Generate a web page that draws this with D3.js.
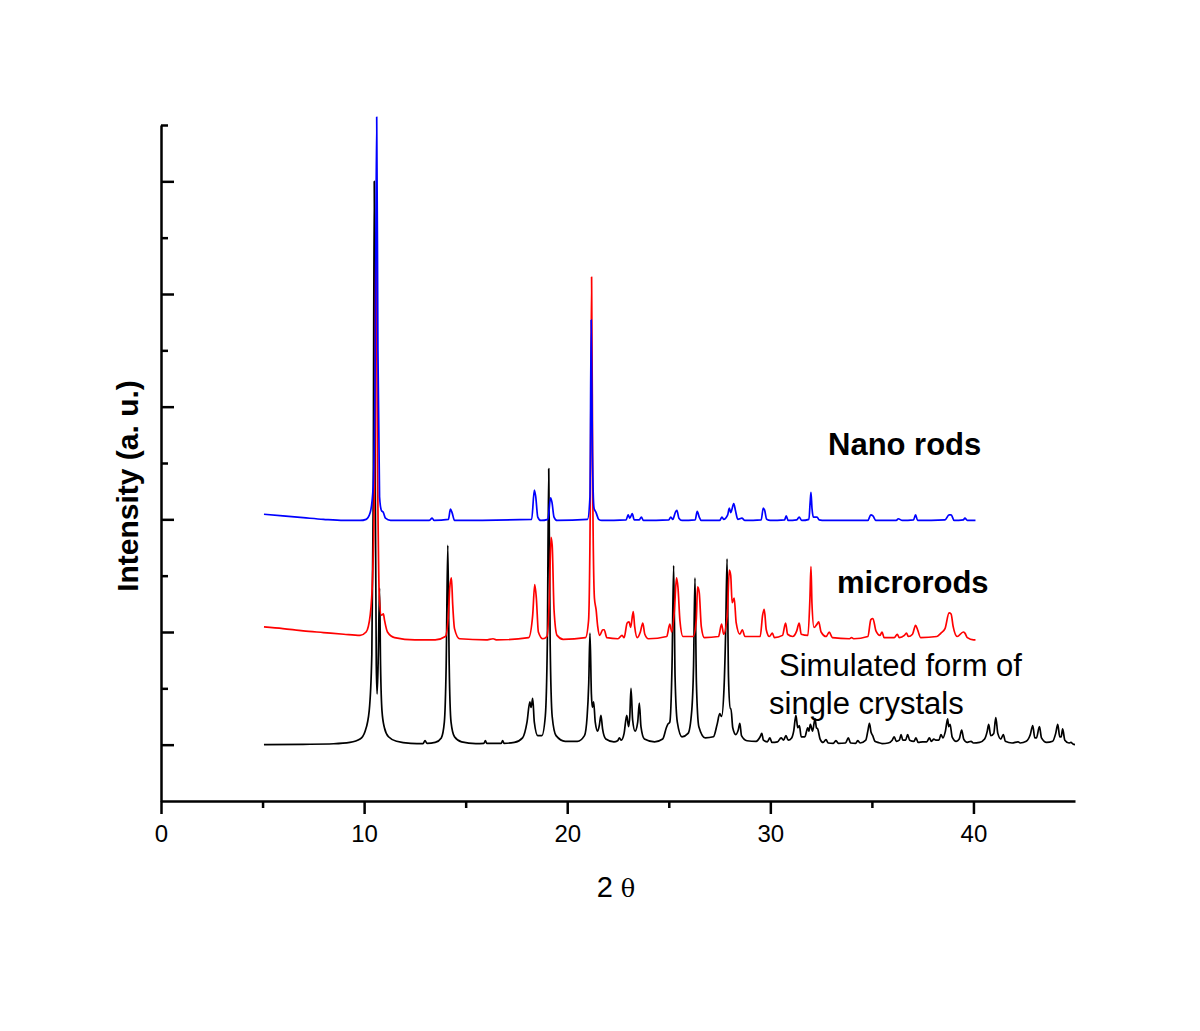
<!DOCTYPE html>
<html>
<head>
<meta charset="UTF-8">
<title>XRD patterns</title>
<script src="https://d3js.org/d3.v7.min.js"></script>
<style>
  body { margin: 0; background: #fff; }
  text { font-family: Arial, "Liberation Sans", sans-serif; }
</style>
</head>
<body>
<script>
// 2theta / intensity (counts above each trace's own zero)
var simulated = [[5.07,0],[7,3],[8.5,8],[9.3,20],[9.8,50],[10.05,120],[10.25,300],[10.38,800],[10.45,2200],[10.5,5000],[10.55,2300],[10.6,700],[10.64,450],[10.7,800],[10.76,1390],[10.81,700],[10.88,300],[11.0,150],[11.2,70],[11.6,30],[12.3,12],[12.9,10],[13.0,35],[13.1,12],[13.5,20],[13.8,60],[13.95,200],[14.04,700],[14.12,1770],[14.19,700],[14.28,200],[14.45,70],[14.8,25],[15.5,10],[15.9,12],[15.97,35],[16.04,12],[16.75,12],[16.82,35],[16.89,12],[17.4,20],[17.8,60],[18.02,200],[18.16,380],[18.22,330],[18.3,410],[18.38,200],[18.55,80],[18.75,80],[18.92,250],[19.02,900],[19.09,2450],[19.16,900],[19.26,250],[19.45,80],[19.9,30],[20.5,30],[20.85,80],[20.98,250],[21.06,550],[21.12,990],[21.19,450],[21.24,330],[21.3,380],[21.38,200],[21.5,120],[21.58,170],[21.66,260],[21.74,140],[21.9,50],[22.3,25],[22.48,35],[22.57,60],[22.66,40],[22.8,100],[22.93,260],[23.02,160],[23.08,250],[23.14,500],[23.22,220],[23.34,120],[23.47,200],[23.55,370],[23.63,160],[23.8,50],[24.3,25],[24.7,50],[24.88,150],[24.95,180],[25.05,200],[25.16,700],[25.24,1590],[25.31,600],[25.42,200],[25.65,70],[25.95,100],[26.13,300],[26.22,700],[26.29,1480],[26.36,550],[26.48,160],[26.8,60],[27.2,70],[27.38,180],[27.51,275],[27.6,250],[27.72,500],[27.8,1000],[27.87,1650],[27.94,600],[28.02,320],[28.06,320],[28.15,150],[28.3,90],[28.42,130],[28.5,190],[28.58,80],[28.85,35],[29.3,30],[29.5,70],[29.58,100],[29.66,40],[29.85,25],[29.98,60],[30.08,20],[30.35,25],[30.53,60],[30.65,40],[30.77,80],[30.88,40],[31.05,60],[31.15,120],[31.26,260],[31.35,150],[31.43,170],[31.52,70],[31.7,70],[31.84,150],[31.9,120],[31.97,180],[32.08,120],[32.2,230],[32.27,150],[32.33,140],[32.45,50],[32.6,20],[32.74,45],[32.85,15],[33.1,12],[33.23,35],[33.35,12],[33.7,15],[33.84,60],[33.95,15],[34.2,12],[34.3,35],[34.42,15],[34.7,40],[34.8,120],[34.88,190],[34.96,110],[35.04,80],[35.15,30],[35.3,20],[35.5,10],[35.8,15],[36.0,40],[36.1,70],[36.2,30],[36.35,40],[36.44,90],[36.52,40],[36.66,40],[36.76,90],[36.86,40],[37.07,30],[37.17,60],[37.28,20],[37.5,25],[37.7,25],[37.83,60],[37.93,30],[38.05,50],[38.15,40],[38.3,40],[38.4,90],[38.5,60],[38.62,120],[38.73,230],[38.78,160],[38.85,180],[38.95,70],[39.15,30],[39.3,50],[39.42,130],[39.52,50],[39.7,20],[39.88,30],[40.0,15],[40.3,20],[40.55,50],[40.68,120],[40.75,180],[40.85,80],[41.0,100],[41.1,240],[41.2,100],[41.35,50],[41.47,90],[41.57,30],[41.9,15],[42.2,25],[42.3,15],[42.6,30],[42.8,90],[42.92,170],[43.02,60],[43.1,60],[43.25,160],[43.35,60],[43.6,20],[43.9,30],[44.05,100],[44.15,180],[44.25,70],[44.32,70],[44.39,140],[44.5,40],[44.7,15],[44.8,20],[44.9,5],[45.0,0]];

var microrods = [[5.07,45],[6,30],[7,10],[8,-5],[9,-20],[9.8,-30],[10.1,0],[10.3,150],[10.42,500],[10.52,1500],[10.58,3550],[10.66,1500],[10.75,300],[10.85,150],[10.95,160],[11.0,110],[11.15,0],[11.5,-50],[12.5,-70],[13.5,-70],[14.0,-40],[14.15,150],[14.22,400],[14.3,480],[14.36,250],[14.45,30],[14.7,-60],[16,-70],[16.35,-60],[16.5,-70],[18.1,-50],[18.3,150],[18.4,420],[18.48,300],[18.58,0],[18.8,-60],[19.0,-40],[19.12,300],[19.2,840],[19.26,770],[19.35,200],[19.5,-30],[19.8,-65],[20.9,-50],[21.05,100],[21.15,1500],[21.2,3150],[21.26,1200],[21.34,300],[21.42,200],[21.5,50],[21.6,-30],[21.75,20],[21.82,20],[21.95,-50],[22.5,-60],[22.7,-30],[22.8,-50],[22.95,80],[23.05,90],[23.12,40],[23.25,180],[23.32,50],[23.45,-50],[23.6,0],[23.72,80],[23.82,-20],[24.0,-60],[24.9,-40],[25.05,70],[25.15,0],[25.28,200],[25.38,480],[25.45,400],[25.55,100],[25.7,-40],[26.2,-40],[26.35,100],[26.42,400],[26.5,350],[26.6,50],[26.75,-50],[27.45,-40],[27.6,70],[27.7,-20],[27.88,150],[27.98,550],[28.05,500],[28.12,260],[28.22,300],[28.32,80],[28.5,-20],[28.62,20],[28.75,-40],[29.5,-40],[29.62,150],[29.7,200],[29.8,20],[29.95,-40],[30.1,-10],[30.2,-50],[30.6,-30],[30.75,80],[30.85,-20],[31.1,-40],[31.3,10],[31.42,80],[31.52,-20],[31.85,-30],[31.95,300],[32.0,580],[32.05,250],[32.15,40],[32.3,70],[32.38,90],[32.5,0],[32.75,-40],[32.9,0],[33.05,-50],[33.9,-60],[34.0,-50],[34.1,-60],[34.8,-40],[34.95,110],[35.05,120],[35.2,10],[35.4,-30],[35.5,0],[35.6,-50],[36.1,-50],[36.25,-20],[36.35,-50],[36.6,-30],[36.7,-10],[36.8,-40],[37.0,-20],[37.15,60],[37.25,20],[37.4,-50],[38.2,-40],[38.4,-10],[38.6,30],[38.8,170],[38.9,160],[39.0,50],[39.2,-40],[39.5,0],[39.58,-10],[39.7,-50],[40.0,-70],[40.1,-70]];

var nanorods = [[5.07,45],[6,30],[7,15],[8,0],[9,-10],[9.8,-10],[10.1,0],[10.3,60],[10.45,300],[10.55,1500],[10.62,3570],[10.68,1500],[10.76,200],[10.85,80],[10.95,60],[11.05,10],[11.3,-10],[13.2,-10],[13.35,10],[13.45,-10],[14.15,0],[14.25,90],[14.33,60],[14.45,-10],[18.25,0],[18.38,260],[18.45,200],[18.55,20],[18.7,-10],[19.05,0],[19.18,190],[19.25,150],[19.35,20],[19.5,-10],[21.0,0],[21.12,200],[21.18,1770],[21.24,600],[21.32,100],[21.42,60],[21.55,0],[21.7,-10],[22.9,-5],[23.0,40],[23.08,10],[23.2,50],[23.3,-5],[23.55,-5],[23.65,20],[23.75,-10],[25.0,-5],[25.1,20],[25.2,0],[25.32,60],[25.4,80],[25.5,10],[25.65,-10],[26.3,-5],[26.4,70],[26.5,20],[26.6,-10],[27.5,-10],[27.62,20],[27.7,0],[27.9,40],[27.98,100],[28.05,60],[28.2,140],[28.28,80],[28.4,0],[28.6,10],[28.75,-10],[29.55,-5],[29.65,100],[29.72,80],[29.82,0],[30.0,-10],[30.7,-5],[30.78,30],[30.88,-10],[31.3,-5],[31.42,20],[31.55,-10],[31.9,0],[31.96,150],[32.0,240],[32.05,100],[32.12,20],[32.3,20],[32.4,-5],[32.7,-10],[34.8,-10],[34.95,40],[35.05,30],[35.2,-10],[36.2,-10],[36.3,5],[36.5,-10],[37.05,-5],[37.15,40],[37.25,-10],[38.6,-5],[38.8,40],[38.9,40],[39.05,-10],[39.5,-5],[39.58,10],[39.7,-10],[40.1,-10]];

var seriesNames = ["simulated", "microrods", "nanorods"];
var seriesOffsets = [500, 1500, 2500];
var seriesColors = ["#000000", "#ff0000", "#0000ff"];

var xMajorTicks = [0, 10, 20, 30, 40];
var xMinorTicks = [5, 15, 25, 35];
var yMajorTicks = [500, 1500, 2500, 3500, 4500, 5500];
var yMinorTicks = [1000, 2000, 3000, 4000, 5000, 6000];

var w = 1200, h = 1031;
var svg = d3.select("body").append("svg")
    .attr("width", w)
    .attr("height", h);

var x = d3.scaleLinear().domain([0, 45]).range([161, 1075]);
var y = d3.scaleLinear().domain([0, 6000]).range([801, 125]);

var allSeries = [simulated, microrods, nanorods];

var line = d3.line()
    .x(function(d) { return x(d[0]); })
    .y(function(d) { return y(d[1]); })
    .curve(d3.curveMonotoneX);

// traces, black first so blue ends on top
allSeries.forEach(function(s, i) {
    var off = seriesOffsets[i];
    svg.append("path")
        .datum(s.map(function(d) { return [d[0], d[1] + off]; }))
        .attr("class", "trace " + seriesNames[i])
        .attr("fill", "none")
        .attr("stroke", seriesColors[i])
        .attr("stroke-width", 1.7)
        .attr("stroke-linejoin", "round")
        .attr("d", line);
});

// x axis
var xAxis = svg.append("g").attr("transform", "translate(0," + y(0) + ")");
xAxis.call(d3.axisBottom(x).tickValues(xMajorTicks).tickSize(13).tickSizeOuter(0).tickPadding(11));
xAxis.append("g").call(d3.axisBottom(x).tickValues(xMinorTicks).tickSize(7).tickFormat(""))
    .select(".domain").remove();
xAxis.selectAll("text").attr("font-size", 24).attr("fill", "#000")
    .attr("font-family", "Arial, 'Liberation Sans', sans-serif");

// y axis, ticks pointing inward and no labels
var yAxis = svg.append("g").attr("transform", "translate(" + x(0) + ",0)");
yAxis.call(d3.axisLeft(y).tickValues(yMajorTicks).tickSizeInner(-13).tickSizeOuter(0).tickFormat(""));
yAxis.append("g").call(d3.axisLeft(y).tickValues(yMinorTicks).tickSizeInner(-7).tickSizeOuter(0).tickFormat(""))
    .select(".domain").remove();

svg.selectAll(".domain, .tick line")
    .attr("stroke", "#000")
    .attr("stroke-width", 2.5);

// axis titles
svg.append("text")
    .attr("x", 616).attr("y", 897)
    .attr("text-anchor", "middle")
    .attr("font-size", 29)
    .text("2 ")
    .append("tspan").attr("font-family", "'DejaVu Serif', serif").attr("font-size", 24).text("θ");

svg.append("text")
    .attr("transform", "translate(138,486) rotate(-90)")
    .attr("text-anchor", "middle")
    .attr("font-size", 30)
    .attr("font-weight", "bold")
    .text("Intensity (a. u.)");

// trace labels
var labels = [
    {t: "Nano rods", x: 828, y: 455, bold: true},
    {t: "microrods", x: 837, y: 593, bold: true},
    {t: "Simulated form of", x: 779, y: 676, bold: false},
    {t: "single crystals", x: 769, y: 714, bold: false}
];
svg.selectAll(".lbl").data(labels).enter().append("text")
    .attr("class", "lbl")
    .attr("x", function(d) { return d.x; })
    .attr("y", function(d) { return d.y; })
    .attr("font-size", 31)
    .attr("font-weight", function(d) { return d.bold ? "bold" : "normal"; })
    .text(function(d) { return d.t; });
</script>
</body>
</html>
